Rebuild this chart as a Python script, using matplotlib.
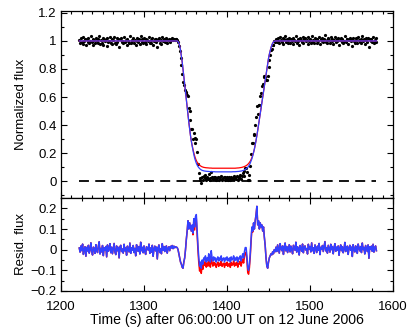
"""
Eclipse light curve with two model fits and residuals
"""
import numpy as np
import matplotlib
matplotlib.use('Agg')
import matplotlib.pyplot as plt
from matplotlib.ticker import MultipleLocator

plt.rcParams['font.family'] = ['Liberation Sans', 'DejaVu Sans']

# time grid, one sample per second (s after 06:00:00 UT)
time = np.arange(1222, 1581)

flux_pre = [
    1.008, 0.988, 1.018, 0.995, 1.027, 0.977, 1.003, 1.014, 0.968, 1.011,
    0.994, 1.021, 0.983, 1.000, 1.033, 0.991, 0.974, 1.012, 1.005, 0.982,
    1.024, 0.997, 0.986, 1.017, 1.038, 0.979, 1.006, 0.989, 1.020, 0.971,
    1.009, 0.998, 1.015, 0.965, 1.023, 0.992, 1.002, 1.029, 0.985, 1.012,
    0.980, 1.005, 1.030, 0.988, 0.976, 1.018, 0.995, 1.011, 0.960, 1.014,
    1.021, 0.991, 1.003, 0.983, 1.026, 0.994, 1.008, 0.973, 1.017, 1.000,
    0.989, 1.032, 0.982, 1.009, 0.997, 1.020, 0.986, 1.006, 0.970, 1.024,
    1.002, 0.992, 1.015, 0.979, 1.036, 0.995, 1.011, 0.985, 1.018, 0.991,
    0.977, 1.014, 1.005, 0.998, 1.027, 0.982, 1.008, 0.988, 1.021, 0.968,
    1.003, 1.017, 0.994, 1.012, 0.955, 1.009, 1.023, 0.986, 1.005, 0.980,
    1.029, 0.997, 1.015, 0.991, 1.011, 1.018, 0.983, 1.006, 1.014, 0.995,
    1.016, 1.008, 1.020, 1.005, 1.017, 1.009, 1.014, 1.012,
]
flux_ingress = [
    1.010, 0.995, 0.965, 0.925, 0.875, 0.825, 0.765, 0.710, 0.685, 0.650,
    0.635, 0.630, 0.615, 0.610, 0.520, 0.500, 0.435, 0.375, 0.370, 0.300,
    0.340, 0.275, 0.305, 0.298, 0.205, 0.124, 0.056, 0.009, 0.024, -0.010,
    0.027, 0.005, 0.033,
]
flux_bottom = [
    0.022, 0.041, 0.010, 0.030, 0.014, 0.049, 0.023, 0.008, 0.063, 0.027,
    0.012, 0.032, 0.017, 0.026, 0.006, 0.021, 0.031, 0.011, 0.026, 0.016,
    0.036, 0.011, 0.021, 0.026, 0.006, 0.026, 0.016, 0.031, 0.011, 0.021,
    0.026, 0.006, 0.031, 0.016, 0.022, 0.037, 0.012, 0.027, 0.018, 0.033,
    0.009, 0.029, 0.025, 0.041, 0.017, 0.038, 0.055, 0.037, 0.070, 0.093,
]
flux_egress = [
    0.097, 0.062, 0.008, 0.006, 0.046, 0.108, 0.193, 0.270, 0.270, 0.333,
    0.329, 0.398, 0.460, 0.535, 0.482, 0.540, 0.540, 0.610, 0.630, 0.680,
    0.690, 0.750, 0.740, 0.740, 0.720, 0.720, 0.750, 0.815, 0.865, 0.900,
    0.932, 0.945, 0.974, 0.973, 0.998, 0.990,
]
flux_post = [
    1.012, 0.991, 1.023, 1.003, 0.983, 1.029, 1.006, 0.995, 1.018, 0.977,
    1.011, 1.032, 0.994, 1.015, 0.986, 1.005, 1.024, 0.989, 1.017, 1.000,
    0.980, 1.021, 1.009, 0.997, 1.036, 0.988, 1.014, 1.002, 0.974, 1.020,
    1.008, 0.992, 1.027, 0.985, 1.012, 1.018, 0.998, 1.005, 0.979, 1.026,
    1.003, 1.015, 0.989, 1.033, 0.995, 1.009, 0.982, 1.023, 1.006, 0.986,
    1.017, 0.997, 1.030, 0.976, 1.011, 1.002, 1.020, 0.991, 1.014, 1.039,
    0.994, 1.008, 0.983, 1.021, 1.005, 0.988, 1.026, 1.000, 1.015, 0.980,
    1.009, 1.029, 0.992, 1.012, 0.998, 1.018, 0.973, 1.006, 1.023, 0.995,
    1.014, 0.985, 1.003, 1.035, 0.991, 1.011, 1.017, 0.977, 1.008, 1.021,
    0.997, 1.012, 0.967, 1.024, 1.002, 0.989, 1.018, 1.005, 0.982, 1.027,
    1.009, 0.994, 1.015, 0.986, 1.032, 1.000, 1.011, 0.979, 1.020, 1.006,
    0.991, 1.023, 0.958, 1.014, 1.003, 1.017, 0.992, 1.026, 0.988, 1.009,
    1.018, 0.995,
]

# blue model
blue_ingress = [
    1.0, 0.995, 0.985, 0.965, 0.935, 0.895, 0.85, 0.80, 0.745, 0.69,
    0.635, 0.58, 0.525, 0.47, 0.42, 0.37, 0.325, 0.285, 0.25, 0.22,
    0.19, 0.165, 0.145, 0.128, 0.115, 0.104, 0.096, 0.089, 0.084, 0.08,
    0.077, 0.075, 0.073,
]
blue_bottom = [
    0.072, 0.071, 0.070, 0.070, 0.069, 0.069, 0.068, 0.068, 0.068, 0.067,
    0.067, 0.067, 0.067, 0.066, 0.066, 0.066, 0.066, 0.066, 0.066, 0.066,
    0.066, 0.066, 0.066, 0.066, 0.066, 0.066, 0.066, 0.066, 0.066, 0.066,
    0.066, 0.066, 0.066, 0.066, 0.067, 0.067, 0.067, 0.067, 0.068, 0.068,
    0.069, 0.069, 0.070, 0.071, 0.072, 0.073, 0.075, 0.077, 0.080, 0.083,
]
blue_egress = [
    0.087, 0.092, 0.098, 0.106, 0.116, 0.128, 0.143, 0.160, 0.180, 0.203,
    0.229, 0.258, 0.290, 0.325, 0.362, 0.40, 0.44, 0.48, 0.52, 0.56,
    0.60, 0.64, 0.68, 0.72, 0.76, 0.80, 0.84, 0.875, 0.905, 0.93,
    0.952, 0.97, 0.984, 0.993, 0.998, 1.0,
]

# red model
red_ingress = [
    1.0, 0.995, 0.985, 0.965, 0.935, 0.895, 0.85, 0.80, 0.745, 0.69,
    0.635, 0.58, 0.525, 0.47, 0.42, 0.37, 0.325, 0.285, 0.255, 0.228,
    0.202, 0.18, 0.162, 0.147, 0.135, 0.126, 0.119, 0.113, 0.109, 0.105,
    0.102, 0.10, 0.098,
]
red_bottom = [
    0.097, 0.096, 0.095, 0.095, 0.094, 0.094, 0.093, 0.093, 0.093, 0.092,
    0.092, 0.092, 0.092, 0.092, 0.092, 0.092, 0.092, 0.092, 0.092, 0.092,
    0.092, 0.092, 0.092, 0.092, 0.092, 0.092, 0.092, 0.092, 0.092, 0.092,
    0.092, 0.092, 0.092, 0.092, 0.092, 0.092, 0.092, 0.092, 0.093, 0.093,
    0.094, 0.094, 0.095, 0.096, 0.097, 0.098, 0.100, 0.102, 0.104, 0.107,
]
red_egress = [
    0.110, 0.114, 0.119, 0.125, 0.133, 0.142, 0.154, 0.168, 0.185, 0.205,
    0.229, 0.258, 0.290, 0.325, 0.362, 0.40, 0.44, 0.48, 0.52, 0.56,
    0.60, 0.64, 0.68, 0.72, 0.76, 0.80, 0.84, 0.875, 0.905, 0.93,
    0.952, 0.97, 0.984, 0.993, 0.998, 1.0,
]

flux = np.array(flux_pre + flux_ingress + flux_bottom + flux_egress + flux_post)
model_blue = np.array([1.0] * len(flux_pre) + blue_ingress + blue_bottom
                      + blue_egress + [1.0] * len(flux_post))
model_red = np.array([1.0] * len(flux_pre) + red_ingress + red_bottom
                     + red_egress + [1.0] * len(flux_post))

# residuals are data minus model
resid_blue = flux - model_blue
resid_red = flux - model_red

RED = '#ff0000'
BLUE = '#3340ff'

fig = plt.figure(figsize=(4.15, 3.34), dpi=100)
ax1 = fig.add_axes([0.147, 0.407, 0.800, 0.561])
ax2 = fig.add_axes([0.147, 0.129, 0.800, 0.278])

# top panel: light curve
ax1.plot(time, flux, 'o', color='black', ms=2.3, mew=0)
ax1.plot(time, model_red, color=RED, lw=0.9)
ax1.plot(time, model_blue, color=BLUE, lw=0.9)
ax1.plot([time[0], time[-1]], [0, 0], color='black', lw=1.3,
         linestyle=(0, (5.5, 3.5)))
ax1.set_xlim(1200, 1600)
ax1.set_ylim(-0.121, 1.216)
ax1.set_ylabel('Normalized flux', fontsize=9.5)
ax1.xaxis.set_major_locator(MultipleLocator(100))
ax1.xaxis.set_minor_locator(MultipleLocator(12.5))
ax1.yaxis.set_minor_locator(MultipleLocator(0.1))
ax1.set_yticks([0, 0.2, 0.4, 0.6, 0.8, 1.0, 1.2])
ax1.set_yticklabels(['0', '0.2', '0.4', '0.6', '0.8', '1', '1.2'])
ax1.tick_params(labelbottom=False)

# bottom panel: residuals
ax2.plot(time, resid_red, color=RED, lw=1.1)
ax2.plot(time, resid_blue, color=BLUE, lw=1.1)
ax2.set_xlim(1200, 1600)
ax2.set_ylim(-0.2, 0.25)
ax2.set_ylabel('Resid. flux', fontsize=9.5)
ax2.set_xlabel('Time (s) after 06:00:00 UT on 12 June 2006', fontsize=10.2,
               labelpad=0)
ax2.xaxis.set_major_locator(MultipleLocator(100))
ax2.xaxis.set_minor_locator(MultipleLocator(25))
ax2.yaxis.set_minor_locator(MultipleLocator(0.05))
ax2.set_yticks([-0.2, -0.1, 0, 0.1, 0.2])
ax2.set_yticklabels(['\u22120.2', '\u22120.1', '0', '0.1', '0.2'])

for ax in (ax1, ax2):
    ax.tick_params(which='both', direction='in', top=True, right=True,
                   labelsize=9.5, width=0.8, pad=3)
    ax.tick_params(which='major', length=4)
    ax.tick_params(which='minor', length=2.2)
    for s in ax.spines.values():
        s.set_linewidth(0.9)
    ax.yaxis.set_label_coords(-0.102, 0.5)

ax2.tick_params(axis='x', which='both', pad=7)

plt.savefig('out.png', dpi=100)
